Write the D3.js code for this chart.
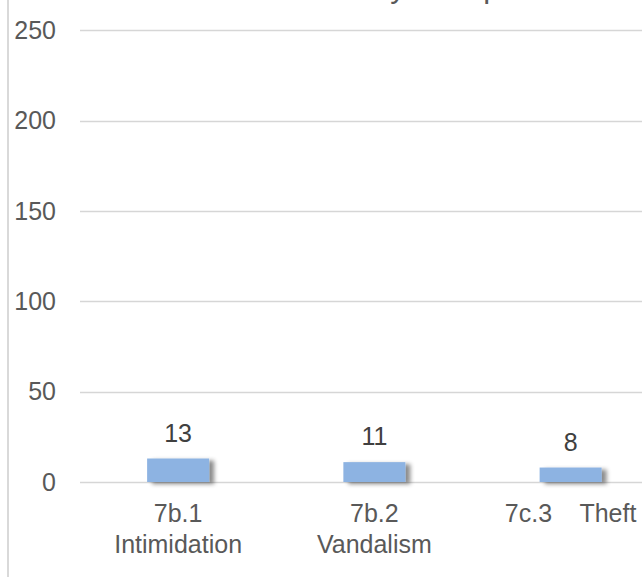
<!DOCTYPE html>
<html>
<head>
<meta charset="utf-8">
<script src="https://cdn.jsdelivr.net/npm/d3@7"></script>
<style>
  html, body { margin: 0; padding: 0; background: #fff; }
  svg { display: block; }
  text { font-family: "Liberation Sans", Arial, sans-serif; }
</style>
</head>
<body>
<svg id="chart" width="642" height="577"></svg>
<script>
// ---- data ----
const categories = ["7b.1 Intimidation", "7b.2 Vandalism", "7c.3 Theft"];
const categoryLines = [["7b.1", "Intimidation"], ["7b.2", "Vandalism"], ["7c.3    Theft"]];
const values = [13, 11, 8];
const yTicks = [0, 50, 100, 150, 200, 250];
const chartTitle = "Incidents by Group";

// ---- layout ----
const W = 642, H = 577;
const svg = d3.select("#chart");

const defs = svg.append("defs");
const f = defs.append("filter").attr("id", "shadow")
  .attr("x", "-20%").attr("y", "-40%").attr("width", "160%").attr("height", "200%");
f.append("feDropShadow").attr("dx", 5).attr("dy", 2).attr("stdDeviation", 2.2)
  .attr("flood-color", "#000").attr("flood-opacity", 0.45);

// left border line of chart area
svg.append("line").attr("x1", 8).attr("x2", 8).attr("y1", 0).attr("y2", H)
  .attr("stroke", "#d9d9d9").attr("stroke-width", 2);

const y = d3.scaleLinear().domain([0, 250]).range([482, 30.4]);
const x = d3.scaleBand().domain(categories).range([80, 668.75])
  .paddingInner(0.684).paddingOuter(0.342);

// gridlines
svg.append("g").selectAll("line").data(yTicks).join("line")
  .attr("x1", 80).attr("x2", W + 10)
  .attr("y1", d => Math.round(y(d)) + 0.5).attr("y2", d => Math.round(y(d)) + 0.5)
  .attr("stroke", "#d6d6d6").attr("stroke-width", 1.3);

// y axis labels
const yAxis = d3.axisLeft(y).tickValues(yTicks).tickSize(0).tickPadding(0);
const gy = svg.append("g").attr("transform", "translate(56,0)").call(yAxis);
gy.select(".domain").remove();
gy.selectAll("text").attr("font-size", 25).attr("fill", "#595959")
  .attr("font-family", "Liberation Sans, Arial, sans-serif");

// bars
svg.append("g").selectAll("rect").data(values).join("rect")
  .attr("x", (d, i) => x(categories[i]))
  .attr("width", x.bandwidth())
  .attr("y", d => y(d))
  .attr("height", d => y(0) - y(d))
  .attr("fill", "#8db3e2")
  .attr("filter", "url(#shadow)");

// value labels
svg.append("g").selectAll("text").data(values).join("text")
  .attr("x", (d, i) => x(categories[i]) + x.bandwidth() / 2)
  .attr("y", d => y(d) - 17)
  .attr("text-anchor", "middle")
  .attr("font-size", 25).attr("fill", "#404040")
  .text(d => d);

// category labels
const cg = svg.append("g").selectAll("text").data(categoryLines).join("text")
  .attr("x", (d, i) => x(categories[i]) + x.bandwidth() / 2)
  .attr("y", 522)
  .attr("text-anchor", "middle")
  .attr("font-size", 25).attr("fill", "#595959")
  .style("white-space", "pre");
cg.each(function(lines, i) {
  const t = d3.select(this);
  const cx = x(categories[i]) + x.bandwidth() / 2;
  lines.forEach((ln, j) => {
    t.append("tspan").attr("x", cx).attr("dy", j === 0 ? 0 : 30.5).text(ln);
  });
});

// title (mostly cut off at top, as in the reference)
const title = svg.append("text")
  .attr("x", 0).attr("y", -3.5)
  .attr("font-size", 31).attr("fill", "#595959")
  .text(chartTitle);
const node = title.node();
const yi = chartTitle.indexOf("y");
const ext = node.getExtentOfChar(yi);
title.attr("x", 398 - (ext.x + ext.width / 2));
</script>
</body>
</html>
